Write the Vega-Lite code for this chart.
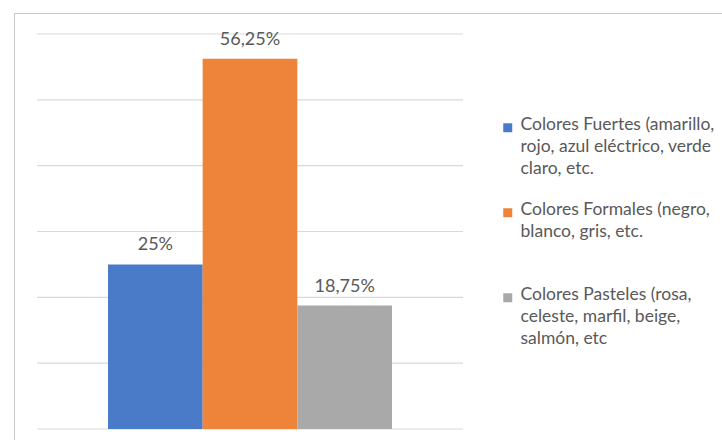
{
  "$schema": "https://vega.github.io/schema/vega-lite/v6.json",
  "width": 708,
  "height": 427,
  "autosize": {"type": "none"},
  "padding": {"left": 14, "top": 13, "right": 0, "bottom": 0},
  "background": "white",
  "config": {"view": {"stroke": null}, "font": "Lato"},
  "datasets": {
    "barras": [
      {"grupo": "Preferencia", "serie": "Colores Fuertes (amarillo, rojo, azul eléctrico, verde claro, etc.", "porcentaje": 25, "etiqueta": "25%"},
      {"grupo": "Preferencia", "serie": "Colores Formales (negro, blanco, gris, etc.", "porcentaje": 56.25, "etiqueta": "56,25%"},
      {"grupo": "Preferencia", "serie": "Colores Pasteles (rosa, celeste, marfil, beige, salmón, etc", "porcentaje": 18.75, "etiqueta": "18,75%"}
    ],
    "rejilla": [
      {"grupo": "Preferencia", "nivel": 0},
      {"grupo": "Preferencia", "nivel": 10},
      {"grupo": "Preferencia", "nivel": 20},
      {"grupo": "Preferencia", "nivel": 30},
      {"grupo": "Preferencia", "nivel": 40},
      {"grupo": "Preferencia", "nivel": 50},
      {"grupo": "Preferencia", "nivel": 60}
    ]
  },
  "layer": [
    {
      "data": {"name": "rejilla"},
      "mark": {"type": "bar", "fill": "transparent", "stroke": "#d9d9d9", "strokeWidth": 1.2},
      "encoding": {
        "x": {
          "field": "grupo", "type": "nominal",
          "axis": {"orient": "top", "domain": true, "domainColor": "#c6c6c6", "domainWidth": 1, "ticks": false, "labels": false, "title": null, "grid": false},
          "scale": {"type": "band", "paddingInner": 0, "paddingOuter": 0.331, "align": 0.0816}
        },
        "y": {
          "field": "nivel", "type": "quantitative",
          "axis": {"orient": "left", "domain": true, "domainColor": "#c6c6c6", "domainWidth": 1, "ticks": false, "labels": false, "title": null, "grid": false},
          "scale": {"domain": [-1.67, 63.19], "nice": false, "zero": false}
        },
        "y2": {"field": "nivel"}
      }
    },
    {
      "data": {"name": "barras"},
      "mark": {"type": "bar"},
      "encoding": {
        "x": {"field": "grupo", "type": "nominal"},
        "xOffset": {"field": "serie", "type": "nominal", "sort": null, "scale": {"paddingInner": 0, "paddingOuter": 0.75}},
        "y": {"field": "porcentaje", "type": "quantitative"},
        "y2": {"datum": 0},
        "color": {
          "field": "serie",
          "type": "nominal",
          "sort": null,
          "scale": {
            "domain": [
              "Colores Fuertes (amarillo, rojo, azul eléctrico, verde claro, etc.",
              "Colores Formales (negro, blanco, gris, etc.",
              "Colores Pasteles (rosa, celeste, marfil, beige, salmón, etc"
            ],
            "range": ["#4a7bc8", "#ee8439", "#a9a9a9"]
          },
          "legend": {
            "orient": "none",
            "legendX": 485,
            "legendY": 106,
            "title": null,
            "padding": 0,
            "symbolType": "square",
            "symbolSize": 81,
            "symbolStrokeWidth": 0,
            "labelFont": "Lato",
            "labelFontSize": 17.5,
            "labelColor": "#595959",
            "labelLimit": 400,
            "labelOffset": 4,
            "labelBaseline": "top",
            "rowPadding": 22,
            "labelExpr": "datum.label == 'Colores Fuertes (amarillo, rojo, azul eléctrico, verde claro, etc.' ? ['Colores Fuertes (amarillo,', 'rojo, azul eléctrico, verde', 'claro, etc.'] : datum.label == 'Colores Formales (negro, blanco, gris, etc.' ? ['Colores Formales (negro,', 'blanco, gris, etc.', ''] : ['Colores Pasteles (rosa,', 'celeste, marfil, beige,', 'salmón, etc']",
            "encoding": {"labels": {"dy": {"value": -12}, "lineHeight": {"value": 22}}}
          }
        }
      }
    },
    {
      "data": {"name": "barras"},
      "mark": {"type": "text", "baseline": "alphabetic", "dy": -14, "fontSize": 18, "font": "Lato", "color": "#595959"},
      "encoding": {
        "x": {"field": "grupo", "type": "nominal"},
        "xOffset": {"field": "serie", "type": "nominal", "sort": null},
        "y": {"field": "porcentaje", "type": "quantitative"},
        "text": {"field": "etiqueta"}
      }
    }
  ]
}
